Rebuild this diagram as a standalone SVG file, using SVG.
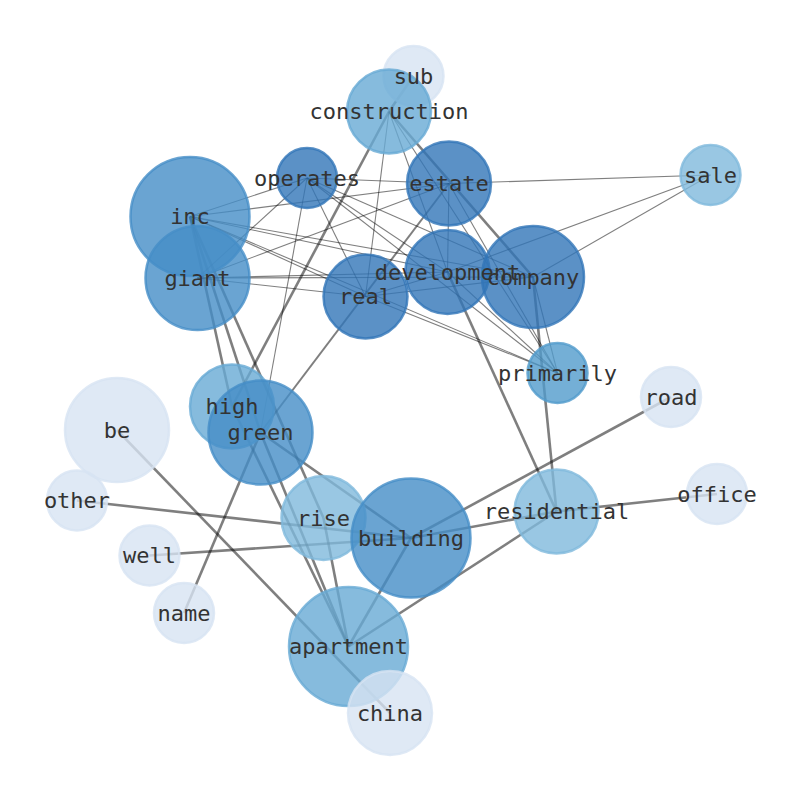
<svg xmlns="http://www.w3.org/2000/svg" width="794" height="790" viewBox="0 0 794 790">
<style>
.e{stroke:#000;stroke-opacity:0.5;fill:none;stroke-linecap:butt}
.t{stroke-width:1.1}
.k{stroke-width:2.6}
.n circle{stroke-width:2.5;fill-opacity:0.8;stroke-opacity:0.8}
.c1{fill:#3276b8;stroke:#3276b8}
.c2{fill:#458dc7;stroke:#458dc7}
.c3{fill:#519bcc;stroke:#519bcc}
.c4{fill:#68aad4;stroke:#68aad4}
.c5{fill:#7fb9dc;stroke:#7fb9dc}
.c6{fill:#d7e3f2;stroke:#d7e3f2}
text{font-family:"DejaVu Sans Mono","Liberation Mono",monospace;font-size:22px;fill:#333;text-anchor:middle;dominant-baseline:central}
</style>
<rect width="794" height="790" fill="#fff"/>
<g id="edges">
<line class="e t" x1="307" y1="178" x2="190" y2="216.5"/>
<line class="e t" x1="307" y1="178" x2="197.5" y2="278"/>
<line class="e t" x1="307" y1="178" x2="449" y2="183.5"/>
<line class="e t" x1="307" y1="178" x2="365.5" y2="296.5"/>
<line class="e t" x1="307" y1="178" x2="447.5" y2="272"/>
<line class="e t" x1="307" y1="178" x2="533" y2="277"/>
<line class="e t" x1="307" y1="178" x2="557.5" y2="373"/>
<line class="e t" x1="307" y1="178" x2="260.5" y2="432.5"/>
<line class="e t" x1="190" y1="216.5" x2="449" y2="183.5"/>
<line class="e t" x1="190" y1="216.5" x2="447.5" y2="272"/>
<line class="e t" x1="190" y1="216.5" x2="533" y2="277"/>
<line class="e t" x1="190" y1="216.5" x2="365.5" y2="296.5"/>
<line class="e t" x1="190" y1="216.5" x2="557.5" y2="373"/>
<line class="e t" x1="197.5" y1="278" x2="449" y2="183.5"/>
<line class="e t" x1="197.5" y1="278" x2="447.5" y2="272"/>
<line class="e t" x1="197.5" y1="278" x2="533" y2="277"/>
<line class="e t" x1="197.5" y1="278" x2="365.5" y2="296.5"/>
<line class="e t" x1="449" y1="183.5" x2="447.5" y2="272"/>
<line class="e t" x1="449" y1="183.5" x2="557.5" y2="373"/>
<line class="e t" x1="449" y1="183.5" x2="710.5" y2="175"/>
<line class="e t" x1="365.5" y1="296.5" x2="447.5" y2="272"/>
<line class="e t" x1="365.5" y1="296.5" x2="533" y2="277"/>
<line class="e t" x1="365.5" y1="296.5" x2="557.5" y2="373"/>
<line class="e t" x1="447.5" y1="272" x2="557.5" y2="373"/>
<line class="e t" x1="447.5" y1="272" x2="710.5" y2="175"/>
<line class="e t" x1="533" y1="277" x2="557.5" y2="373"/>
<line class="e t" x1="533" y1="277" x2="710.5" y2="175"/>
<line class="e t" x1="389" y1="111.5" x2="365.5" y2="296.5"/>
<line class="e t" x1="389" y1="111.5" x2="447.5" y2="272"/>
<line class="e t" x1="389" y1="111.5" x2="557.5" y2="373"/>
<line class="e k" x1="389" y1="111.5" x2="413.5" y2="76"/>
<line class="e k" x1="389" y1="111.5" x2="232" y2="406.5"/>
<line class="e k" x1="389" y1="111.5" x2="533" y2="277"/>
<line class="e" stroke-width="2" x1="449" y1="183.5" x2="260.5" y2="432.5"/>
<line class="e k" x1="190" y1="216.5" x2="232" y2="406.5"/>
<line class="e k" x1="190" y1="216.5" x2="260.5" y2="432.5"/>
<line class="e k" x1="190" y1="216.5" x2="323.5" y2="518"/>
<line class="e k" x1="447.5" y1="272" x2="556.5" y2="511.5"/>
<line class="e k" x1="533" y1="277" x2="556.5" y2="511.5"/>
<line class="e k" x1="260.5" y1="432.5" x2="184" y2="613"/>
<line class="e k" x1="260.5" y1="432.5" x2="411" y2="538"/>
<line class="e k" x1="260.5" y1="432.5" x2="348.5" y2="646.5"/>
<line class="e k" x1="232" y1="406.5" x2="348.5" y2="646.5"/>
<line class="e k" x1="323.5" y1="518" x2="348.5" y2="646.5"/>
<line class="e k" x1="117" y1="430" x2="390" y2="713"/>
<line class="e k" x1="77" y1="500.5" x2="411" y2="538"/>
<line class="e k" x1="149.5" y1="555.5" x2="411" y2="538"/>
<line class="e k" x1="411" y1="538" x2="348.5" y2="646.5"/>
<line class="e k" x1="411" y1="538" x2="556.5" y2="511.5"/>
<line class="e k" x1="411" y1="538" x2="671" y2="397"/>
<line class="e k" x1="556.5" y1="511.5" x2="717" y2="494"/>
<line class="e k" x1="348.5" y1="646.5" x2="556.5" y2="511.5"/>
</g>
<g id="node-sub" class="n"><circle class="c6" cx="413.5" cy="76" r="30"/></g>
<g id="node-construction" class="n"><circle class="c4" cx="389" cy="111.5" r="42"/></g>
<g id="node-operates" class="n"><circle class="c1" cx="307" cy="178" r="30"/></g>
<g id="node-estate" class="n"><circle class="c1" cx="449" cy="183.5" r="42"/></g>
<g id="node-sale" class="n"><circle class="c5" cx="710.5" cy="175" r="30"/></g>
<g id="node-inc" class="n"><circle class="c2" cx="190" cy="216.5" r="59.5"/></g>
<g id="node-giant" class="n"><circle class="c2" cx="197.5" cy="278" r="52"/></g>
<g id="node-development" class="n"><circle class="c1" cx="447.5" cy="272" r="42"/></g>
<g id="node-company" class="n"><circle class="c1" cx="533" cy="277" r="51"/></g>
<g id="node-real" class="n"><circle class="c1" cx="365.5" cy="296.5" r="42"/></g>
<g id="node-primarily" class="n"><circle class="c3" cx="557.5" cy="373" r="30"/></g>
<g id="node-road" class="n"><circle class="c6" cx="671" cy="397" r="30"/></g>
<g id="node-high" class="n"><circle class="c4" cx="232" cy="406.5" r="42"/></g>
<g id="node-green" class="n"><circle class="c2" cx="260.5" cy="432.5" r="52"/></g>
<g id="node-be" class="n"><circle class="c6" cx="117" cy="430" r="52"/></g>
<g id="node-other" class="n"><circle class="c6" cx="77" cy="500.5" r="30"/></g>
<g id="node-office" class="n"><circle class="c6" cx="717" cy="494" r="30"/></g>
<g id="node-rise" class="n"><circle class="c5" cx="323.5" cy="518" r="42"/></g>
<g id="node-building" class="n"><circle class="c2" cx="411" cy="538" r="59.5"/></g>
<g id="node-residential" class="n"><circle class="c5" cx="556.5" cy="511.5" r="42"/></g>
<g id="node-well" class="n"><circle class="c6" cx="149.5" cy="555.5" r="30"/></g>
<g id="node-name" class="n"><circle class="c6" cx="184" cy="613" r="30"/></g>
<g id="node-apartment" class="n"><circle class="c4" cx="348.5" cy="646.5" r="59.5"/></g>
<g id="node-china" class="n"><circle class="c6" cx="390" cy="713" r="42"/></g>
<g id="labels">
<text x="413.5" y="76">sub</text>
<text x="389" y="111.5">construction</text>
<text x="307" y="178">operates</text>
<text x="449" y="183.5">estate</text>
<text x="710.5" y="175">sale</text>
<text x="190" y="216.5">inc</text>
<text x="197.5" y="278">giant</text>
<text x="447.5" y="272">development</text>
<text x="533" y="277">company</text>
<text x="365.5" y="296.5">real</text>
<text x="557.5" y="373">primarily</text>
<text x="671" y="397">road</text>
<text x="232" y="406.5">high</text>
<text x="260.5" y="432.5">green</text>
<text x="117" y="430">be</text>
<text x="77" y="500.5">other</text>
<text x="717" y="494">office</text>
<text x="323.5" y="518">rise</text>
<text x="411" y="538">building</text>
<text x="556.5" y="511.5">residential</text>
<text x="149.5" y="555.5">well</text>
<text x="184" y="613">name</text>
<text x="348.5" y="646.5">apartment</text>
<text x="390" y="713">china</text>
</g>
</svg>
